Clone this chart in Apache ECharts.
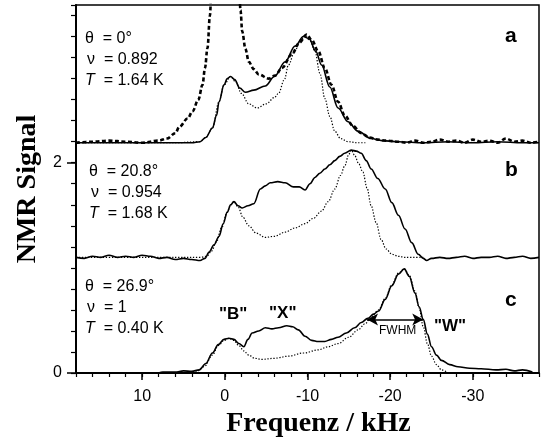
<!DOCTYPE html>
<html>
<head>
<meta charset="utf-8">
<script src="https://cdn.jsdelivr.net/npm/echarts@6/dist/echarts.min.js"></script>
<style>
  html, body {margin:0; padding:0; background:#fff;}
  #chart {width:545px; height:439px;}
</style>
</head>
<body>
<div id="chart"></div>
<script>
// tick labels
var xLabelValues = [-30, -20, -10, 0, 10];
var yLabelValues = [0, 2];

// panel a  (frequency kHz, signal)
var aSolid = [[18,2.19],[14,2.19],[10,2.19],[6,2.19],[4,2.19],[3,2.2],[2.3,2.24],[1.5,2.33],[1.0,2.45],[0.7,2.58],[0.1,2.74],[-0.3,2.8],[-0.7,2.82],[-1.2,2.79],[-1.8,2.71],[-2.5,2.67],[-3.5,2.69],[-4.9,2.73],[-6.0,2.82],[-7.3,2.96],[-8.5,3.11],[-9.5,3.2],[-10.2,3.18],[-11.0,3.06],[-11.7,2.93],[-12.7,2.72],[-13.7,2.52],[-14.9,2.39],[-16.1,2.3],[-17.7,2.23],[-19,2.21],[-21,2.2],[-24,2.19],[-27,2.2],[-30,2.19],[-33,2.2],[-36,2.19],[-38,2.19]];
var aDashed = [[18,2.19],[16,2.2],[14,2.21],[12,2.2],[10,2.19],[8,2.21],[7,2.23],[6,2.28],[5.5,2.34],[4.5,2.42],[3.9,2.49],[3.2,2.6],[2.7,2.74],[2.4,2.9],[2.1,3.09],[1.8,3.4],[1.6,3.7],[1.0,4.6],[0,5.2],[-1.0,4.6],[-1.7,3.7],[-1.9,3.45],[-2.1,3.25],[-2.5,3.08],[-2.9,2.96],[-3.5,2.89],[-4.1,2.84],[-5.3,2.8],[-6.1,2.83],[-6.9,2.9],[-8.1,3.03],[-9.0,3.14],[-9.9,3.22],[-10.5,3.17],[-11.3,3.06],[-12.1,2.9],[-12.9,2.74],[-13.7,2.58],[-14.5,2.45],[-15.5,2.35],[-16.5,2.28],[-17.5,2.24],[-18.5,2.22],[-19.5,2.21],[-21,2.2],[-22,2.19],[-23,2.21],[-24,2.19],[-25,2.2],[-26,2.22],[-27,2.2],[-28,2.21],[-29,2.19],[-30,2.22],[-31,2.2],[-32,2.21],[-33,2.19],[-34,2.23],[-35,2.2],[-36,2.21],[-37,2.19],[-38,2.2]];
var aDotted = [[18,2.19],[6,2.19],[3,2.2],[2.3,2.24],[1.5,2.33],[0.7,2.58],[0.1,2.74],[-0.7,2.82],[-1.3,2.77],[-2.0,2.66],[-2.9,2.56],[-3.9,2.52],[-5.0,2.56],[-6.0,2.62],[-6.5,2.66],[-7.2,2.79],[-7.7,2.93],[-8.5,3.07],[-9.2,3.17],[-9.7,3.21],[-10.3,3.16],[-10.9,3.06],[-11.5,2.85],[-12.1,2.61],[-12.7,2.44],[-13.3,2.3],[-14.0,2.23],[-14.9,2.2],[-16,2.19],[-17,2.19]];

// panel b
var bSolid = [[18,1.1],[17,1.09],[16,1.11],[15,1.1],[14,1.12],[13,1.1],[12,1.11],[11,1.1],[10,1.12],[9,1.11],[8,1.09],[7,1.1],[6,1.08],[5,1.09],[4,1.08],[3,1.07],[2.4,1.09],[1.9,1.15],[1.3,1.22],[0.7,1.3],[0.2,1.42],[-0.3,1.53],[-0.7,1.6],[-1.1,1.63],[-1.6,1.59],[-2.1,1.57],[-2.8,1.59],[-3.5,1.61],[-4.3,1.75],[-4.9,1.78],[-5.5,1.81],[-6.4,1.82],[-7.3,1.81],[-8.3,1.77],[-9.0,1.77],[-9.7,1.74],[-10.3,1.8],[-10.9,1.86],[-11.5,1.9],[-12.1,1.94],[-12.7,1.98],[-13.3,2.02],[-13.9,2.06],[-14.5,2.09],[-15.3,2.12],[-15.9,2.11],[-16.5,2.09],[-17.1,2.02],[-17.7,1.94],[-18.5,1.85],[-19.4,1.75],[-20.2,1.62],[-21.0,1.5],[-21.8,1.37],[-22.6,1.24],[-23.4,1.13],[-24.0,1.09],[-24.4,1.07],[-25,1.09],[-26,1.1],[-27,1.09],[-28,1.1],[-29,1.11],[-30,1.09],[-31,1.1],[-32,1.1],[-33,1.11],[-34,1.09],[-35,1.1],[-36,1.11],[-37,1.09],[-38,1.1]];
var bDotted = [[18,1.1],[6,1.1],[3,1.1],[2.2,1.11],[1.6,1.16],[1.0,1.25],[0.4,1.38],[-0.3,1.53],[-0.7,1.6],[-1.1,1.63],[-1.6,1.58],[-2.2,1.48],[-2.9,1.4],[-3.8,1.33],[-4.9,1.29],[-6.0,1.3],[-7.3,1.34],[-8.5,1.38],[-9.7,1.42],[-10.7,1.47],[-11.7,1.54],[-12.5,1.63],[-13.3,1.75],[-14.0,1.88],[-14.5,1.97],[-15.0,2.08],[-15.3,2.12],[-15.7,2.07],[-16.2,1.99],[-16.7,1.91],[-17.2,1.76],[-17.7,1.59],[-18.3,1.43],[-18.9,1.27],[-19.5,1.18],[-20.2,1.13],[-21.0,1.11],[-21.8,1.1],[-24,1.1]];

// panel c
var cSolid = [[8,0],[7.5,0.01],[6,0.01],[5,0.02],[4,0.015],[3.1,0.03],[2.3,0.09],[1.5,0.19],[0.8,0.27],[0.1,0.32],[-0.5,0.33],[-1.1,0.32],[-1.7,0.28],[-2.3,0.25],[-2.8,0.32],[-3.3,0.38],[-4.1,0.4],[-4.9,0.43],[-5.7,0.42],[-6.5,0.43],[-7.5,0.45],[-8.2,0.44],[-8.9,0.41],[-9.7,0.35],[-10.5,0.31],[-11.3,0.3],[-12.1,0.3],[-12.9,0.32],[-13.7,0.34],[-14.7,0.38],[-15.7,0.43],[-16.5,0.48],[-17.3,0.52],[-18.0,0.56],[-18.6,0.59],[-19.4,0.7],[-20.2,0.83],[-21.0,0.94],[-21.7,0.99],[-22.3,0.92],[-23.0,0.76],[-23.5,0.63],[-24.0,0.51],[-24.5,0.37],[-25.0,0.25],[-25.6,0.17],[-26.2,0.12],[-27.2,0.08],[-28.2,0.06],[-29.6,0.045],[-31,0.04],[-32.8,0.03],[-34,0.035],[-35,0.02],[-36,0.03],[-37.2,0.01]];
var cDotted = [[5,0],[3.5,0.01],[2.5,0.06],[1.5,0.17],[0.8,0.26],[0.1,0.31],[-0.5,0.33],[-1.1,0.31],[-1.7,0.26],[-2.3,0.21],[-2.9,0.17],[-3.6,0.14],[-4.5,0.13],[-6,0.14],[-7.7,0.16],[-9.5,0.19],[-11.3,0.22],[-12.5,0.25],[-13.7,0.28],[-15.0,0.34],[-16.1,0.41],[-17.0,0.47],[-17.6,0.52],[-18.6,0.6],[-19.4,0.71],[-20.2,0.84],[-21.0,0.95],[-21.7,0.99],[-22.3,0.93],[-23.0,0.78],[-23.5,0.62],[-24.0,0.44],[-24.5,0.28],[-25.0,0.16],[-25.6,0.08],[-26.2,0.03],[-27,0]];

// FWHM arrow ends (kHz) and height
var fwhmFrom = -17.2;
var fwhmTo = -24.0;
var fwhmLevel = 0.51;

var sans = 'Liberation Sans, Arial, sans-serif';
var serif = 'Liberation Serif, Times New Roman, serif';

function near(v, list) {
    for (var i = 0; i < list.length; i++) {
        if (Math.abs(v - list[i]) < 1e-6) return true;
    }
    return false;
}

function lineSeries(data, kind) {
    var s = {
        type: 'line',
        data: data,
        showSymbol: false,
        smooth: 0.35,
        smoothMonotone: 'x',
        silent: true,
        z: 3,
        lineStyle: {color: '#000', width: 1.6, type: 'solid'}
    };
    if (kind === 'dashed') {
        s.lineStyle = {color: '#000', width: 2.6, type: [4, 2.5]};
        s.z = 4;
    }
    if (kind === 'dotted') {
        s.lineStyle = {color: '#000', width: 1.2, type: [1.3, 1.7]};
        s.z = 2;
    }
    return s;
}

// parameter text blocks
function infoText(left, top, theta, nu, temp) {
    return [
        {type: 'text', left: left, top: top, style: {text: 'θ  = ' + theta + '°', font: '16px ' + sans, fill: '#000'}},
        {type: 'text', left: left + 2, top: top + 21, style: {text: 'ν  = ' + nu, font: '16px ' + sans, fill: '#000'}},
        {type: 'text', left: left, top: top + 42, style: {
            text: '{i|T}  = ' + temp + ' K', font: '16px ' + sans, fill: '#000',
            rich: {i: {fontStyle: 'italic', fontSize: 16, fontFamily: sans}}
        }}
    ];
}

var chart = echarts.init(document.getElementById('chart'));

var option = {
    animation: false,
    backgroundColor: '#fff',
    grid: {
        left: 76, top: 5, right: 6, bottom: 66,
        outerBoundsMode: 'none',
        containLabel: false,
        show: true, borderColor: '#000', borderWidth: 1.5, backgroundColor: 'transparent'
    },
    xAxis: [{
        type: 'value',
        min: -38, max: 18, interval: 2,
        inverse: true,
        position: 'bottom',
        splitLine: {show: false},
        axisLine: {show: true, onZero: false, lineStyle: {color: '#000', width: 2}},
        axisTick: {show: true, length: 4, lineStyle: {color: '#000', width: 1.2}},
        axisLabel: {
            color: '#000', fontSize: 16, fontFamily: sans, margin: 16,
            formatter: function (v) { return near(v, xLabelValues) ? String(v) : ''; }
        },
        name: 'Frequenz / kHz',
        nameLocation: 'middle',
        nameGap: 35,
        nameTextStyle: {color: '#000', fontSize: 28, fontWeight: 'bold', fontFamily: serif, padding: [0, 0, 0, 22]}
    }, {
        type: 'value',
        min: -38, max: 18,
        inverse: true,
        position: 'bottom',
        splitLine: {show: false},
        axisLine: {show: false, onZero: false},
        axisTick: {show: true, length: 7, customValues: xLabelValues, lineStyle: {color: '#000', width: 1.5}},
        axisLabel: {show: false}
    }],
    yAxis: [{
        type: 'value',
        min: 0, max: 3.5, interval: 0.2,
        position: 'left',
        splitLine: {show: false},
        axisLine: {show: true, onZero: false, lineStyle: {color: '#000', width: 2}},
        axisTick: {show: true, length: 5, lineStyle: {color: '#000', width: 1.2}},
        axisLabel: {
            color: '#000', fontSize: 16, fontFamily: sans, margin: 14,
            formatter: function (v) { return near(v, yLabelValues) ? String(Math.round(v)) : ''; }
        },
        name: 'NMR Signal',
        nameLocation: 'middle',
        nameRotate: 90,
        nameGap: 34,
        nameTextStyle: {color: '#000', fontSize: 28, fontWeight: 'bold', fontFamily: serif}
    }, {
        type: 'value',
        min: 0, max: 3.5,
        position: 'left',
        splitLine: {show: false},
        axisLine: {show: false, onZero: false},
        axisTick: {show: true, length: 9, customValues: yLabelValues, lineStyle: {color: '#000', width: 1.5}},
        axisLabel: {show: false}
    }],
    series: [
        lineSeries(aDotted, 'dotted'),
        lineSeries(aSolid, 'solid'),
        lineSeries(aDashed, 'dashed'),
        lineSeries(bDotted, 'dotted'),
        lineSeries(bSolid, 'solid'),
        lineSeries(cDotted, 'dotted'),
        lineSeries(cSolid, 'solid'),
        {
            // FWHM double arrow
            type: 'line',
            data: [],
            silent: true,
            markLine: {
                silent: true,
                symbol: ['arrow', 'arrow'],
                symbolSize: [9, 11],
                label: {show: false},
                lineStyle: {color: '#000', width: 1.6, type: 'solid'},
                data: [[{coord: [fwhmFrom, fwhmLevel]}, {coord: [fwhmTo, fwhmLevel]}]]
            }
        }
    ],
    graphic: [].concat(
        infoText(85, 31, '0', '0.892', '1.64'),
        infoText(89, 164, '20.8', '0.954', '1.68'),
        infoText(85, 279, '26.9', '1', '0.40'),
        [
            {type: 'text', left: 505, top: 26, style: {text: 'a', font: 'bold 21px ' + sans, fill: '#000'}},
            {type: 'text', left: 505, top: 160, style: {text: 'b', font: 'bold 21px ' + sans, fill: '#000'}},
            {type: 'text', left: 505, top: 290, style: {text: 'c', font: 'bold 21px ' + sans, fill: '#000'}},
            {type: 'text', left: 219, top: 306, style: {text: '"B"', font: 'bold 17px ' + sans, fill: '#000'}},
            {type: 'text', left: 269, top: 305, style: {text: '"X"', font: 'bold 17px ' + sans, fill: '#000'}},
            {type: 'text', left: 434, top: 318, style: {text: '"W"', font: 'bold 17px ' + sans, fill: '#000'}},
            {type: 'text', left: 379, top: 325, style: {text: 'FWHM', font: '12px ' + sans, fill: '#000'}}
        ]
    )
};

chart.setOption(option);
</script>
</body>
</html>
